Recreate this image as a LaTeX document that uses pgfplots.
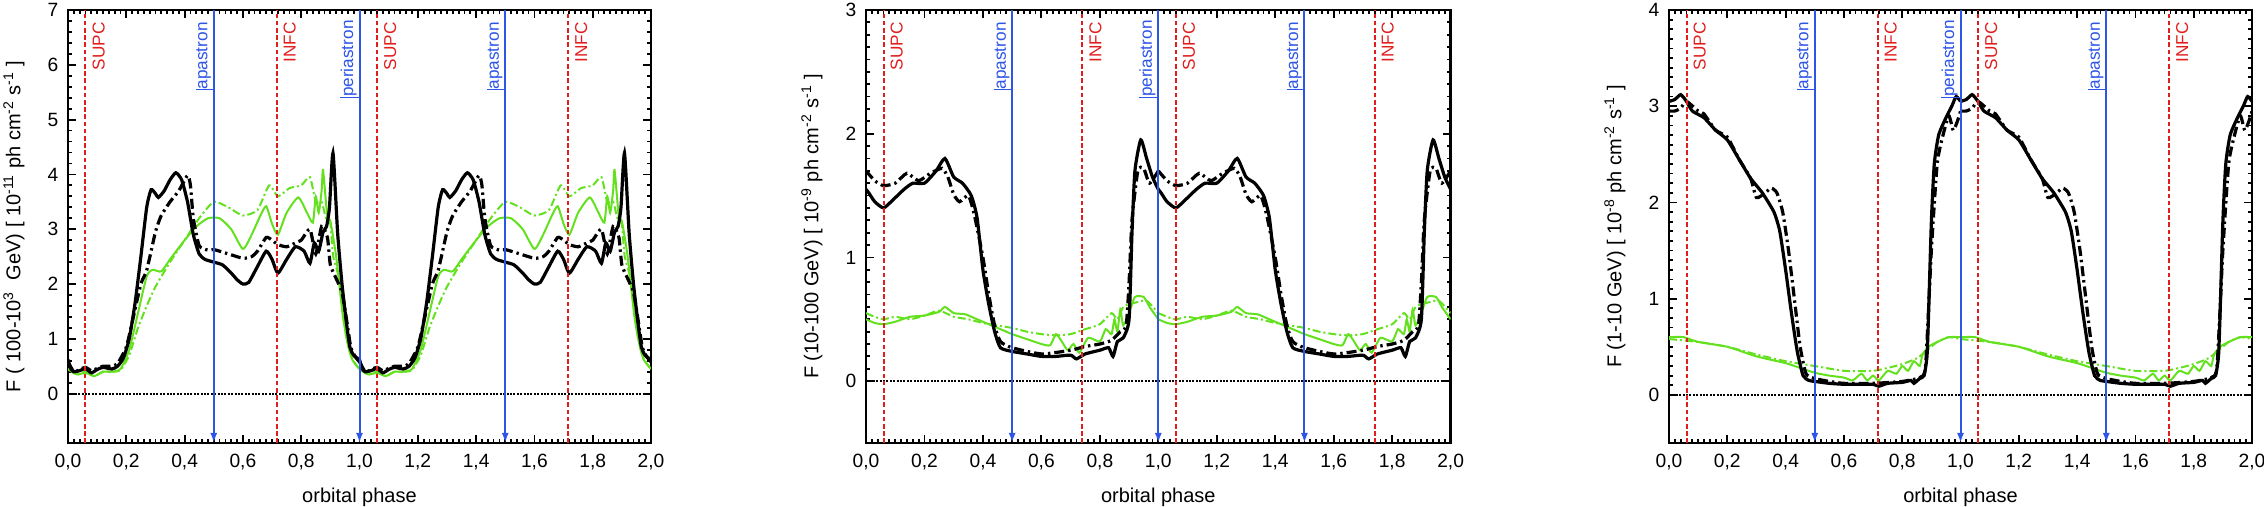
\documentclass[border=0pt]{standalone}
\usepackage{fontspec}
\setmainfont{Liberation Sans}
\usepackage{pgfplots}
\pgfplotsset{compat=1.18}
\usepackage{pgfplotstable}
\usetikzlibrary{arrows.meta}
\definecolor{rl}{RGB}{225,30,30}
\definecolor{bl}{RGB}{45,85,230}
\definecolor{gr}{RGB}{100,225,30}

% ---------- panel 1 (100-1000 GeV) ----------
\pgfplotstableread{
x y
0.00 0.62
0.01 0.45
0.02 0.40
0.04 0.42
0.06 0.46
0.08 0.38
0.10 0.44
0.12 0.48
0.15 0.45
0.17 0.50
0.19 0.65
0.21 1.00
0.23 1.65
0.25 2.50
0.27 3.40
0.285 3.72
0.30 3.65
0.31 3.58
0.33 3.70
0.35 3.90
0.37 4.03
0.39 3.90
0.41 3.50
0.43 2.90
0.45 2.55
0.47 2.45
0.50 2.40
0.53 2.35
0.56 2.20
0.58 2.08
0.60 2.00
0.62 2.03
0.65 2.32
0.68 2.60
0.70 2.45
0.72 2.20
0.75 2.45
0.78 2.68
0.81 2.60
0.83 2.38
0.845 2.75
0.86 2.60
0.875 2.95
0.887 3.05
0.897 3.40
0.909 4.39
0.925 2.93
0.94 2.00
0.955 1.30
0.967 0.85
0.98 0.70
1.00 0.62
}\Abs
\pgfplotstableread{
x y
0.00 0.58
0.02 0.40
0.04 0.44
0.06 0.48
0.08 0.42
0.10 0.46
0.12 0.50
0.15 0.50
0.17 0.55
0.20 0.85
0.22 1.30
0.25 2.00
0.27 2.25
0.30 2.95
0.32 3.25
0.35 3.50
0.38 3.70
0.41 3.98
0.42 3.80
0.43 3.20
0.45 2.70
0.48 2.62
0.50 2.63
0.55 2.55
0.60 2.47
0.63 2.50
0.65 2.60
0.68 2.85
0.70 2.80
0.72 2.72
0.75 2.68
0.78 2.75
0.80 2.80
0.83 3.00
0.85 2.55
0.87 3.05
0.89 2.85
0.90 2.35
0.92 2.10
0.94 1.85
0.957 1.30
0.97 0.85
0.985 0.68
1.00 0.58
}\Abd
\pgfplotstableread{
x y
0.00 0.45
0.03 0.35
0.06 0.38
0.09 0.32
0.12 0.40
0.15 0.40
0.18 0.45
0.21 0.80
0.24 1.47
0.27 2.14
0.29 2.26
0.32 2.23
0.35 2.45
0.40 2.80
0.44 3.05
0.48 3.20
0.52 3.20
0.56 3.00
0.60 2.64
0.63 2.90
0.66 3.25
0.68 3.42
0.70 3.10
0.72 2.90
0.75 3.30
0.79 3.58
0.82 3.30
0.84 3.12
0.85 3.60
0.86 3.30
0.87 3.70
0.875 4.08
0.89 3.20
0.90 3.15
0.92 2.50
0.943 1.41
0.96 0.90
0.975 0.62
1.00 0.45
}\Ags
\pgfplotstableread{
x y
0.00 0.45
0.03 0.35
0.06 0.40
0.09 0.32
0.12 0.40
0.15 0.40
0.18 0.43
0.21 0.70
0.24 1.20
0.27 1.60
0.30 1.95
0.35 2.40
0.40 2.80
0.45 3.20
0.50 3.50
0.55 3.40
0.60 3.25
0.65 3.35
0.69 3.80
0.72 3.60
0.76 3.75
0.80 3.80
0.83 3.95
0.85 3.50
0.87 3.50
0.885 3.20
0.90 3.10
0.91 2.50
0.935 2.00
0.953 1.10
0.97 0.70
0.985 0.55
1.00 0.45
}\Agd

% ---------- panel 2 (10-100 GeV) ----------
\pgfplotstableread{
x y
0.00 1.55
0.01 1.52
0.03 1.45
0.06 1.40
0.09 1.46
0.13 1.55
0.16 1.60
0.20 1.60
0.24 1.70
0.27 1.80
0.30 1.65
0.33 1.60
0.36 1.50
0.38 1.32
0.40 0.90
0.42 0.62
0.44 0.40
0.46 0.27
0.50 0.24
0.55 0.22
0.60 0.20
0.65 0.20
0.70 0.21
0.72 0.18
0.75 0.22
0.80 0.25
0.83 0.27
0.845 0.20
0.86 0.32
0.88 0.35
0.90 0.50
0.91 1.20
0.92 1.70
0.94 1.95
0.96 1.80
0.98 1.65
1.00 1.55
}\Bbs
\pgfplotstableread{
x y
0.00 1.70
0.03 1.62
0.06 1.58
0.10 1.60
0.14 1.68
0.18 1.62
0.22 1.68
0.26 1.72
0.28 1.65
0.30 1.51
0.32 1.45
0.35 1.50
0.37 1.35
0.40 1.00
0.42 0.70
0.44 0.45
0.46 0.32
0.50 0.27
0.60 0.22
0.70 0.25
0.75 0.28
0.80 0.30
0.84 0.33
0.87 0.40
0.89 0.45
0.90 0.80
0.91 1.30
0.93 1.70
0.95 1.72
0.97 1.60
1.00 1.70
}\Bbd
\pgfplotstableread{
x y
0.00 0.50
0.03 0.47
0.06 0.46
0.10 0.48
0.15 0.52
0.20 0.53
0.25 0.56
0.27 0.60
0.30 0.55
0.34 0.54
0.38 0.50
0.42 0.46
0.46 0.42
0.50 0.38
0.55 0.34
0.60 0.30
0.63 0.29
0.65 0.38
0.67 0.32
0.69 0.25
0.71 0.30
0.73 0.23
0.76 0.35
0.80 0.32
0.82 0.42
0.84 0.38
0.85 0.50
0.86 0.40
0.87 0.58
0.88 0.45
0.90 0.55
0.92 0.68
0.95 0.68
0.97 0.60
1.00 0.50
}\Bgs
\pgfplotstableread{
x y
0.00 0.55
0.03 0.52
0.06 0.50
0.10 0.52
0.15 0.50
0.20 0.53
0.25 0.57
0.30 0.52
0.35 0.50
0.40 0.47
0.45 0.45
0.50 0.43
0.55 0.40
0.60 0.38
0.65 0.37
0.70 0.38
0.75 0.42
0.80 0.46
0.84 0.55
0.86 0.50
0.88 0.60
0.90 0.62
0.93 0.64
0.96 0.65
1.00 0.55
}\Bgd

% ---------- panel 3 (1-10 GeV) ----------
\pgfplotstableread{
x y
0.00 3.05
0.02 3.07
0.04 3.12
0.06 3.05
0.08 2.95
0.12 2.88
0.16 2.75
0.20 2.65
0.24 2.45
0.28 2.25
0.32 2.10
0.36 1.90
0.38 1.70
0.40 1.30
0.42 0.85
0.44 0.45
0.46 0.20
0.48 0.15
0.50 0.14
0.55 0.12
0.60 0.11
0.65 0.11
0.70 0.11
0.72 0.09
0.75 0.12
0.80 0.13
0.83 0.15
0.84 0.12
0.86 0.17
0.875 0.20
0.885 0.40
0.89 0.80
0.90 1.80
0.91 2.40
0.925 2.70
0.95 2.88
0.97 3.00
0.985 3.10
1.00 3.05
}\Cbs
\pgfplotstableread{
x y
0.00 2.95
0.02 2.95
0.04 2.98
0.06 3.05
0.10 2.95
0.12 2.92
0.16 2.75
0.20 2.68
0.24 2.45
0.28 2.25
0.30 2.05
0.33 2.10
0.35 2.15
0.37 2.10
0.39 1.90
0.41 1.50
0.43 1.00
0.45 0.50
0.47 0.22
0.50 0.17
0.55 0.14
0.60 0.12
0.70 0.12
0.80 0.14
0.86 0.18
0.88 0.30
0.90 1.50
0.92 2.40
0.94 2.70
0.96 2.90
0.975 2.75
0.99 2.85
1.00 2.95
}\Cbd
\pgfplotstableread{
x y
0.00 0.60
0.05 0.60
0.10 0.55
0.20 0.50
0.30 0.40
0.40 0.33
0.45 0.28
0.50 0.23
0.55 0.20
0.60 0.18
0.63 0.15
0.66 0.22
0.68 0.15
0.70 0.20
0.72 0.15
0.75 0.25
0.78 0.22
0.80 0.30
0.82 0.25
0.84 0.35
0.86 0.30
0.87 0.42
0.89 0.50
0.92 0.55
0.96 0.60
1.00 0.60
}\Cgs
\pgfplotstableread{
x y
0.00 0.58
0.10 0.55
0.20 0.50
0.30 0.42
0.40 0.35
0.50 0.30
0.60 0.25
0.70 0.25
0.75 0.28
0.80 0.32
0.85 0.38
0.88 0.45
0.92 0.55
0.96 0.60
1.00 0.58
}\Cgd

\tikzset{
 bs/.style={black, line width=1.6pt, smooth, tension=0.35},
 bd/.style={black, line width=1.6pt, smooth, tension=0.35, dash pattern=on 5pt off 2pt on 1.2pt off 2pt},
 gs/.style={gr, line width=1pt, smooth, tension=0.35},
 gd/.style={gr, line width=1pt, smooth, tension=0.35, dash pattern=on 4pt off 1.5pt on 1pt off 1.5pt},
 lab/.style={font=\fontsize{8.6}{10}\selectfont, inner sep=0pt, rotate=90},
}
\pgfplotsset{
 panel/.style={scale only axis, width=291.5pt, height=216.5pt,
  xmin=0, xmax=2,
  xtick={0,0.2,0.4,0.6,0.8,1.0,1.2,1.4,1.6,1.8,2.0},
  minor x tick num=9,
  tick align=inside, major tick length=4pt, minor tick length=2pt,
  axis line style={line width=1.3pt},
  tick style={black, line width=0.9pt},
  /pgf/number format/assume math mode=true,
  xticklabel style={/pgf/number format/fixed, /pgf/number format/fixed zerofill,
     /pgf/number format/precision=1, /pgf/number format/use comma,
     anchor=center, yshift=-9.5pt},
  yticklabel style={xshift=-1.3pt},
  tick label style={font=\fontsize{9.6}{11}\selectfont},
  label style={font=\fontsize{10}{12}\selectfont},
  xlabel={orbital phase},
  xlabel style={at={(axis description cs:0.5,-0.1247)}, anchor=center},
  ylabel style={at={(axis description cs:-0.0926,0.5)}, anchor=center},
  anchor=south west},
}

\newcommand{\twice}[2]{%
 \addplot[#1] table[x index=0, y index=1] {#2};
 \addplot[#1] table[x expr=\thisrowno{0}+1, y index=1] {#2};}

% #1 INFC first, #2 INFC second, #3 ymin, #4 ymax
\newcommand{\phasemarks}[4]{%
 \draw[black, line width=0.9pt, dash pattern=on 1pt off 0.7pt] (axis cs:0,0) -- (axis cs:2,0);
 \draw[rl, line width=1pt, dash pattern=on 2.3pt off 1.3pt] (axis cs:0.06,#3) -- (axis cs:0.06,#4);
 \draw[rl, line width=1pt, dash pattern=on 2.3pt off 1.3pt] (axis cs:1.06,#3) -- (axis cs:1.06,#4);
 \draw[rl, line width=1pt, dash pattern=on 2.3pt off 1.3pt] (axis cs:#1,#3) -- (axis cs:#1,#4);
 \draw[rl, line width=1pt, dash pattern=on 2.3pt off 1.3pt] (axis cs:#2,#3) -- (axis cs:#2,#4);
 \draw[bl, line width=1pt, -{Latex[length=5pt,width=3.5pt]}] (axis cs:0.5,#4) -- (axis cs:0.5,#3);
 \draw[bl, line width=1pt, -{Latex[length=5pt,width=3.5pt]}] (axis cs:1.0,#4) -- (axis cs:1.0,#3);
 \draw[bl, line width=1pt, -{Latex[length=5pt,width=3.5pt]}] (axis cs:1.5,#4) -- (axis cs:1.5,#3);
 \node[lab, text=rl, anchor=north east] at ([xshift=3.3pt,yshift=-6pt]axis cs:0.06,#4) {SUPC};
 \node[lab, text=rl, anchor=north east] at ([xshift=3.3pt,yshift=-6pt]axis cs:1.06,#4) {SUPC};
 \node[lab, text=rl, anchor=north east] at ([xshift=3.3pt,yshift=-6pt]axis cs:#1,#4) {INFC};
 \node[lab, text=rl, anchor=north east] at ([xshift=3.3pt,yshift=-6pt]axis cs:#2,#4) {INFC};
 \node[lab, text=bl, anchor=south east] (ap1) at ([xshift=-1.2pt,yshift=-6pt]axis cs:0.5,#4) {apastron};
 \draw[bl, line width=0.6pt] (ap1.north west) -- ([xshift=1.2pt]ap1.south west);
 \node[lab, text=bl, anchor=south east] (pe1) at ([xshift=-1.2pt,yshift=-5pt]axis cs:1.0,#4) {periastron};
 \draw[bl, line width=0.6pt] (pe1.north west) -- ([xshift=1.2pt]pe1.south west);
 \node[lab, text=bl, anchor=south east] (ap2) at ([xshift=-1.2pt,yshift=-6pt]axis cs:1.5,#4) {apastron};
 \draw[bl, line width=0.6pt] (ap2.north west) -- ([xshift=1.2pt]ap2.south west);
}

\begin{document}
\begin{tikzpicture}
\useasboundingbox (0,0) rectangle (1132pt,253.5pt);

\begin{axis}[panel, at={(34pt,32pt)}, ymin=-0.9, ymax=7, ytick={0,1,2,3,4,5,6,7}, minor y tick num=4,
  ylabel={F ( 100-10\textsuperscript{3}\ \ GeV) [ 10\textsuperscript{-11} ph cm\textsuperscript{-2} s\textsuperscript{-1} ]}]
 \twice{gd}{\Agd}
 \twice{gs}{\Ags}
 \twice{bd}{\Abd}
 \twice{bs}{\Abs}
 \phasemarks{0.716}{1.716}{-0.9}{7}
\end{axis}

\begin{axis}[panel, at={(433pt,32pt)}, width=292.3pt, ymin=-0.5, ymax=3, ytick={0,1,2,3}, minor y tick num=9,
  ylabel={F (10-100 GeV) [ 10\textsuperscript{-9} ph cm\textsuperscript{-2} s\textsuperscript{-1} ]}]
 \twice{gd}{\Bgd}
 \twice{gs}{\Bgs}
 \twice{bd}{\Bbd}
 \twice{bs}{\Bbs}
 \phasemarks{0.74}{1.74}{-0.5}{3}
\end{axis}

\begin{axis}[panel, at={(834.5pt,32pt)}, ymin=-0.5, ymax=4, ytick={0,1,2,3,4}, minor y tick num=9,
  ylabel={F (1-10 GeV) [ 10\textsuperscript{-8} ph cm\textsuperscript{-2} s\textsuperscript{-1} ]}]
 \twice{gd}{\Cgd}
 \twice{gs}{\Cgs}
 \twice{bd}{\Cbd}
 \twice{bs}{\Cbs}
 \phasemarks{0.716}{1.716}{-0.5}{4}
\end{axis}
\end{tikzpicture}
\end{document}
